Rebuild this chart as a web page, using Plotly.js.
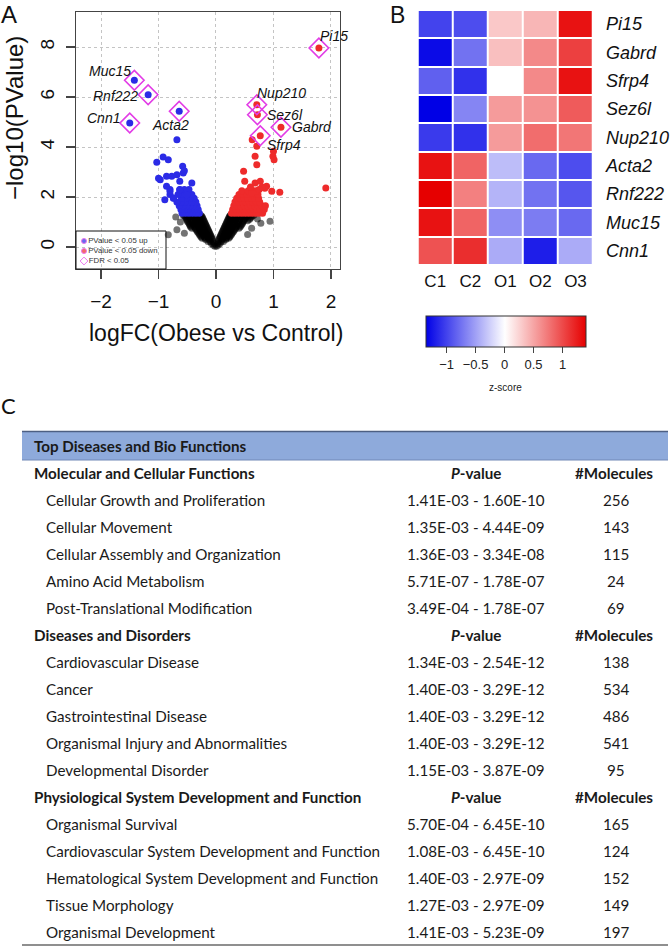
<!DOCTYPE html>
<html>
<head>
<meta charset="utf-8">
<script src="https://cdn.plot.ly/plotly-3.0.1.min.js"></script>
<style>html,body{margin:0;padding:0;background:#fff}#chart{width:672px;height:949px}</style>
</head>
<body>
<div id="chart"></div>
<script>
// ---------------- Panel A: volcano data ----------------
const blackX = [-0.02,0.01,-0.05,0.04,-0.03,-0.08,0.03,0.07,-0.05,-0.10,-0.14,0.04,0.09,0.13,
  -0.06,-0.12,-0.18,0.05,0.11,0.17,-0.08,-0.14,-0.20,-0.26,0.07,0.13,0.19,0.24,
  -0.10,-0.16,-0.22,-0.29,0.09,0.15,0.21,0.27,-0.12,-0.19,-0.25,-0.32,0.11,0.17,0.23,0.30,
  -0.14,-0.21,-0.28,-0.35,0.13,0.19,0.26,0.33,-0.16,-0.23,-0.30,-0.37,-0.44,0.15,0.21,0.28,0.35,0.42,
  -0.18,-0.25,-0.32,-0.39,-0.46,0.17,0.23,0.30,0.37,0.45,-0.20,-0.27,-0.34,-0.41,-0.49,0.19,0.25,0.32,0.39,0.47,
  -0.22,-0.29,-0.36,-0.43,-0.51,0.21,0.27,0.34,0.41,0.50,0.58,-0.24,-0.31,-0.38,-0.45,-0.53,0.23,0.29,0.36,0.43,0.52,0.61,
  -0.27,-0.35,-0.43,-0.50,-0.57,0.25,0.32,0.40,0.48,0.56,0.66,
  -0.83,-0.68,-0.62,0.94,0.62,0.72,-0.70,0.55,0.78,-0.55];
const blackY = [0.03,0.03,0.08,0.08,0.14,0.14,0.14,0.14,0.22,0.22,0.22,0.22,0.22,0.22,
  0.30,0.30,0.30,0.30,0.30,0.30,0.40,0.40,0.40,0.40,0.40,0.40,0.40,0.40,
  0.50,0.50,0.50,0.50,0.50,0.50,0.50,0.50,0.60,0.60,0.60,0.60,0.60,0.60,0.60,0.60,
  0.70,0.70,0.70,0.70,0.70,0.70,0.70,0.70,0.80,0.80,0.80,0.80,0.80,0.80,0.80,0.80,0.80,0.80,
  0.90,0.90,0.90,0.90,0.90,0.90,0.90,0.90,0.90,0.90,1.00,1.00,1.00,1.00,1.00,1.00,1.00,1.00,1.00,1.00,
  1.10,1.10,1.10,1.10,1.10,1.10,1.10,1.10,1.10,1.10,1.10,1.20,1.20,1.20,1.20,1.20,1.20,1.20,1.20,1.20,1.20,1.20,
  1.27,1.27,1.27,1.27,1.27,1.27,1.27,1.27,1.27,1.27,1.27,
  0.49,0.69,1.00,1.03,0.75,1.12,1.20,0.50,0.95,0.55];
// second (interleaved) layer of non-significant genes
const blackX2 = [-0.07,-0.13,-0.19,-0.24,0.06,0.12,0.18,0.22,
  -0.09,-0.15,-0.21,-0.27,0.08,0.14,0.20,0.25,
  -0.11,-0.17,-0.24,-0.30,0.10,0.16,0.22,0.28,
  -0.13,-0.20,-0.27,-0.33,0.12,0.18,0.25,0.31,
  -0.15,-0.22,-0.29,-0.36,-0.42,0.14,0.20,0.27,0.34,0.40,
  -0.17,-0.24,-0.31,-0.38,-0.45,0.16,0.22,0.29,0.36,0.43,
  -0.19,-0.26,-0.33,-0.40,-0.47,0.18,0.24,0.31,0.38,0.46,
  -0.21,-0.28,-0.35,-0.42,-0.50,0.20,0.26,0.33,0.40,0.48,0.55,
  -0.23,-0.30,-0.37,-0.44,-0.52,0.22,0.28,0.35,0.42,0.51,0.60,
  -0.25,-0.33,-0.41,-0.48,-0.55,0.24,0.30,0.38,0.46,0.54,0.63];
const blackY2 = [0.35,0.35,0.35,0.35,0.35,0.35,0.35,0.35,
  0.45,0.45,0.45,0.45,0.45,0.45,0.45,0.45,
  0.55,0.55,0.55,0.55,0.55,0.55,0.55,0.55,
  0.65,0.65,0.65,0.65,0.65,0.65,0.65,0.65,
  0.75,0.75,0.75,0.75,0.75,0.75,0.75,0.75,0.75,0.75,
  0.85,0.85,0.85,0.85,0.85,0.85,0.85,0.85,0.85,0.85,
  0.95,0.95,0.95,0.95,0.95,0.95,0.95,0.95,0.95,0.95,
  1.05,1.05,1.05,1.05,1.05,1.05,1.05,1.05,1.05,1.05,1.05,
  1.15,1.15,1.15,1.15,1.15,1.15,1.15,1.15,1.15,1.15,1.15,
  1.24,1.24,1.24,1.24,1.24,1.24,1.24,1.24,1.24,1.24,1.24];

const blueX = [-0.29,-0.35,-0.41,-0.47,-0.53,-0.59,-0.31,-0.37,-0.43,-0.49,-0.55,-0.61,
  -0.33,-0.39,-0.45,-0.51,-0.57,-0.64,-0.35,-0.42,-0.48,-0.54,-0.60,-0.68,
  -0.38,-0.45,-0.52,-0.60,-0.74,-0.42,-0.50,-0.58,-0.66,-0.80,-0.47,-0.55,-0.63,-0.80,
  -0.68,-0.92,-1.03,-0.83,-0.58,-0.57,-0.97,-0.86,-0.77,-0.68,-0.63,-0.42,-0.86,-0.80,-0.89,-0.74,-0.63,-0.51,-0.55,-1.00];
const blueY = [1.35,1.35,1.35,1.35,1.35,1.35,1.50,1.50,1.50,1.50,1.50,1.50,
  1.65,1.65,1.65,1.65,1.65,1.65,1.80,1.80,1.80,1.80,1.80,1.80,
  1.95,1.95,1.95,1.95,1.95,2.10,2.10,2.10,2.10,2.10,2.30,2.30,2.30,2.30,
  4.29,3.60,3.39,3.49,3.23,2.96,2.69,2.83,2.83,2.89,2.63,2.56,2.43,2.23,1.89,1.96,2.29,2.09,3.05,2.75];

const redX = [0.27,0.33,0.39,0.45,0.51,0.57,0.63,0.69,0.75,0.81,0.29,0.35,0.41,0.47,0.53,0.59,0.65,0.71,0.77,0.84,
  0.31,0.37,0.43,0.49,0.55,0.61,0.67,0.73,0.80,0.86,0.33,0.40,0.46,0.52,0.58,0.64,0.70,0.76,
  0.36,0.42,0.49,0.55,0.62,0.68,0.74,0.40,0.47,0.54,0.60,0.67,0.73,0.45,0.56,0.65,0.71,
  0.63,0.71,0.68,0.71,0.48,1.00,0.99,1.01,0.68,0.50,0.77,0.88,0.97,1.11,1.91,0.62,0.85,0.80,0.60,0.75];
const redY = [1.35,1.35,1.35,1.35,1.35,1.35,1.35,1.35,1.35,1.35,1.50,1.50,1.50,1.50,1.50,1.50,1.50,1.50,1.50,1.50,
  1.65,1.65,1.65,1.65,1.65,1.65,1.65,1.65,1.65,1.65,1.80,1.80,1.80,1.80,1.80,1.80,1.80,1.80,
  1.95,1.95,1.95,1.95,1.95,1.95,1.95,2.10,2.10,2.10,2.10,2.10,2.10,2.25,2.25,2.25,2.25,
  4.29,4.03,3.63,3.29,3.03,3.83,3.63,3.49,2.56,2.63,2.63,2.43,2.23,2.19,2.36,2.16,2.35,2.40,2.40,2.30];

const fdrGenes = ['Muc15','Rnf222','Cnn1','Acta2','Pi15','Nup210','Sez6l','Gabrd','Sfrp4'];
const fdrX = [-1.42,-1.18,-1.50,-0.64,1.79,0.71,0.72,1.13,0.77];
const fdrY = [6.67,6.09,4.96,5.43,7.96,5.69,5.29,4.79,4.45];
const fdrDir = ['blue','blue','blue','blue','red','red','red','red','red'];

const legendLabels = ['PValue < 0.05 up','PValue < 0.05 down','FDR < 0.05'];
const xTicks = [-2,-1,0,1,2];
const yTicks = [0,2,4,6,8];

// ---------------- Panel B: heatmap data ----------------
const samples = ['C1','C2','O1','O2','O3'];
const hmGenes = ['Pi15','Gabrd','Sfrp4','Sez6l','Nup210','Acta2','Rnf222','Muc15','Cnn1'];
const zPi15   = [-1.00,-0.95, 0.30, 0.40, 1.30];
const zGabrd  = [-1.30,-0.75, 0.35, 0.65, 1.05];
const zSfrp4  = [-0.85,-1.10, 0.00, 0.65, 1.30];
const zSez6l  = [-1.36,-0.65, 0.55, 0.60, 0.90];
const zNup210 = [-1.05,-1.10, 0.55, 0.80, 0.75];
const zActa2  = [ 1.30, 0.85,-0.35,-0.80,-0.95];
const zRnf222 = [ 1.40, 0.70,-0.40,-0.75,-0.90];
const zMuc15  = [ 1.30, 0.85,-0.60,-0.70,-0.80];
const zCnn1   = [ 0.95, 1.15,-0.45,-1.20,-0.45];
const cbTicks = [-1,-0.5,0,0.5,1];

// ---------------- Panel C: table data ----------------
const tableTitle = 'Top Diseases and Bio Functions';
const sectionTitles = ['Molecular and Cellular Functions','Diseases and Disorders','Physiological System Development and Function'];
const mcfNames = ['Cellular Growth and Proliferation','Cellular Movement','Cellular Assembly and Organization','Amino Acid Metabolism','Post-Translational Modification'];
const mcfPvals = ['1.41E-03 - 1.60E-10','1.35E-03 - 4.44E-09','1.36E-03 - 3.34E-08','5.71E-07 - 1.78E-07','3.49E-04 - 1.78E-07'];
const mcfCounts = [256,143,115,24,69];
const ddNames = ['Cardiovascular Disease','Cancer','Gastrointestinal Disease','Organismal Injury and Abnormalities','Developmental Disorder'];
const ddPvals = ['1.34E-03 - 2.54E-12','1.40E-03 - 3.29E-12','1.40E-03 - 3.29E-12','1.40E-03 - 3.29E-12','1.15E-03 - 3.87E-09'];
const ddCounts = [138,534,486,541,95];
const psdNames = ['Organismal Survival','Cardiovascular System Development and Function','Hematological System Development and Function','Tissue Morphology','Organismal Development'];
const psdPvals = ['5.70E-04 - 6.45E-10','1.08E-03 - 6.45E-10','1.40E-03 - 2.97E-09','1.27E-03 - 2.97E-09','1.41E-03 - 5.23E-09'];
const psdCounts = [165,124,152,149,197];

// ---------------- Build ----------------
const W = 672, H = 949;
const PX = v => v / W, PY = v => 1 - v / H;
const BLUE = '#2b2be6', RED = '#ee2b2b', MAG = '#e23ce6';
const ARIAL = 'Liberation Sans, Arial, sans-serif';
const NARROW = 'Liberation Sans Narrow, Liberation Sans, Arial, sans-serif';
const TFONT = 'Lato, Open Sans, sans-serif';

const traces = [];
const blackMarker = {color:'rgba(0,0,0,0.55)', size:7, line:{width:0}};
traces.push({type:'scatter', mode:'markers', x:blackX, y:blackY, xaxis:'x', yaxis:'y', hoverinfo:'skip', marker:blackMarker});
traces.push({type:'scatter', mode:'markers', x:blackX2, y:blackY2, xaxis:'x', yaxis:'y', hoverinfo:'skip', marker:blackMarker});
traces.push({type:'scatter', mode:'markers', x:blueX, y:blueY, xaxis:'x', yaxis:'y', hoverinfo:'skip',
  marker:{color:BLUE, size:7, line:{width:0}}});
traces.push({type:'scatter', mode:'markers', x:redX, y:redY, xaxis:'x', yaxis:'y', hoverinfo:'skip',
  marker:{color:RED, size:7, line:{width:0}}});
traces.push({type:'scatter', mode:'markers', x:fdrX, y:fdrY, xaxis:'x', yaxis:'y', hoverinfo:'skip',
  marker:{color:fdrDir.map(d => d === 'blue' ? BLUE : RED), size:7, line:{width:0}}});
traces.push({type:'scatter', mode:'markers', x:fdrX, y:fdrY, xaxis:'x', yaxis:'y', hoverinfo:'skip',
  marker:{symbol:'diamond-open', color:MAG, size:15, line:{width:1.6, color:MAG}}});

// manual legend (inset axis)
traces.push({type:'scatter', mode:'markers+text', xaxis:'x3', yaxis:'y3', hoverinfo:'skip',
  x:[8,8,8], y:[10,20,30], text:legendLabels, textposition:'middle right',
  textfont:{family:ARIAL, size:7.8, color:'#333'},
  marker:{symbol:['circle','circle','diamond-open'], color:[BLUE, RED, MAG], size:[5,5,6], line:{width:1, color:MAG}}});

// heatmap
traces.push({type:'heatmap', xaxis:'x2', yaxis:'y2', x:samples, y:hmGenes,
  z:[zPi15,zGabrd,zSfrp4,zSez6l,zNup210,zActa2,zRnf222,zMuc15,zCnn1],
  zmin:-1.36, zmax:1.40, xgap:2, ygap:2, hoverinfo:'skip',
  colorscale:[[0,'#0000e6'],[0.493,'#ffffff'],[1,'#e60000']],
  colorbar:{orientation:'h', x:PX(505.7), xanchor:'center', y:PY(315.7), yanchor:'top',
    len:160, lenmode:'pixels', thickness:31, thicknessmode:'pixels', xpad:0, ypad:0,
    outlinewidth:1, outlinecolor:'#333', ticks:'outside', ticklen:6, tickcolor:'#444',
    tickvals:cbTicks, ticktext:cbTicks.map(v => v < 0 ? '\u2212' + Math.abs(v) : String(v)),
    tickfont:{family:ARIAL, size:13, color:'#222'}}});

const annotations = [];
const shapes = [];
// panel letters
annotations.push({xref:'paper', yref:'paper', x:PX(9), y:PY(14), text:'A', showarrow:false, xanchor:'center', yanchor:'middle', font:{family:ARIAL, size:24, color:'#111'}});
annotations.push({xref:'paper', yref:'paper', x:PX(397), y:PY(15), text:'B', showarrow:false, xanchor:'center', yanchor:'middle', font:{family:ARIAL, size:23, color:'#111'}});
annotations.push({xref:'paper', yref:'paper', x:PX(8), y:PY(405), text:'C', showarrow:false, xanchor:'center', yanchor:'middle', font:{family:TFONT, size:22, color:'#111'}});
annotations.push({xref:'paper', yref:'paper', x:PX(505.7), y:PY(387), text:'z-score', showarrow:false, xanchor:'center', yanchor:'middle', font:{family:ARIAL, size:10, color:'#222'}});
// axis titles for volcano
annotations.push({xref:'paper', yref:'paper', x:PX(14), y:PY(118), text:'\u2212log10(PValue)', textangle:-90, showarrow:false, xanchor:'center', yanchor:'middle', font:{family:ARIAL, size:24, color:'#111'}});
annotations.push({xref:'paper', yref:'paper', x:PX(216), y:PY(333), text:'logFC(Obese vs Control)', showarrow:false, xanchor:'center', yanchor:'middle', font:{family:NARROW, size:23, color:'#111'}});
// gene labels (offsets in px relative to the point)
const labStyle = {
  Muc15:{xa:'right', dx:-1, dy:9}, Rnf222:{xa:'right', dx:-8, dy:-1}, Cnn1:{xa:'right', dx:-8, dy:5},
  Acta2:{xa:'center', dx:-9, dy:-14}, Pi15:{xa:'left', dx:-1, dy:12}, Nup210:{xa:'center', dx:25, dy:12},
  Sez6l:{xa:'left', dx:8, dy:0}, Gabrd:{xa:'left', dx:9, dy:0}, Sfrp4:{xa:'left', dx:5, dy:-9}};
fdrGenes.forEach((g, i) => {
  const s = labStyle[g];
  annotations.push({xref:'x', yref:'y', x:fdrX[i], y:fdrY[i], text:'<i>' + g + '</i>', showarrow:false,
    xanchor:s.xa, yanchor:'middle', xshift:s.dx, yshift:s.dy, font:{family:ARIAL, size:14, color:'#111'}});
});
// legend box
shapes.push({type:'rect', xref:'paper', yref:'paper', x0:PX(76), x1:PX(166), y0:PY(269), y1:PY(231), line:{color:'#111', width:1}, layer:'above'});

// table
const tColor = '#1a1a1a';
shapes.push({type:'rect', xref:'paper', yref:'paper', x0:PX(22), x1:PX(668), y0:PY(460), y1:PY(431.5), fillcolor:'#8eaadb', line:{width:0}, layer:'below'});
shapes.push({type:'line', xref:'paper', yref:'paper', x0:PX(22), x1:PX(668), y0:PY(431.5), y1:PY(431.5), line:{color:'#4d5f82', width:1.5}});
shapes.push({type:'line', xref:'paper', yref:'paper', x0:PX(22), x1:PX(668), y0:PY(460), y1:PY(460), line:{color:'#7088b6', width:1}});
shapes.push({type:'line', xref:'paper', yref:'paper', x0:PX(22), x1:PX(668), y0:PY(945), y1:PY(945), line:{color:'#6a6a6a', width:1.5}});
function tText(txt, x, y, xa, bold) {
  annotations.push({xref:'paper', yref:'paper', x:PX(x), y:PY(y), text: bold ? '<b>' + txt + '</b>' : txt,
    showarrow:false, xanchor:xa, yanchor:'middle', font:{family:TFONT, size:15.2, color:tColor}});
}
tText(tableTitle, 31.5, 446, 'left', true);
const sections = [[mcfNames, mcfPvals, mcfCounts],[ddNames, ddPvals, ddCounts],[psdNames, psdPvals, psdCounts]];
let row = 0;
const rowY = r => 473 + 27 * r;
sections.forEach((sec, si) => {
  tText(sectionTitles[si], 31.5, rowY(row), 'left', true);
  tText('<i>P</i>-value', 476, rowY(row), 'center', true);
  tText('#Molecules', 614, rowY(row), 'center', true);
  row++;
  sec[0].forEach((nm, k) => {
    tText(nm, 43.5, rowY(row), 'left', false);
    tText(sec[1][k], 476, rowY(row), 'center', false);
    tText(String(sec[2][k]), 616, rowY(row), 'center', false);
    row++;
  });
});

const layout = {
  width:W, height:H, margin:{l:0, r:0, t:0, b:0}, paper_bgcolor:'#fff', plot_bgcolor:'rgba(0,0,0,0)',
  showlegend:false, annotations, shapes,
  xaxis:{domain:[PX(76), PX(340)], range:[-2.435, 2.157], tickvals:xTicks, ticks:'outside', ticklen:9, tickwidth:1.2, tickcolor:'#444',
    showline:true, mirror:true, linecolor:'#444', linewidth:1.2, showgrid:true, gridcolor:'#c4c4c4', griddash:'dot', gridwidth:1,
    zeroline:false, tickfont:{family:NARROW, size:19, color:'#111'}, ticklabelstandoff:6, anchor:'y'},
  yaxis:{domain:[PY(269), PY(12)], range:[-0.88, 9.4], tickvals:yTicks, ticks:'outside', ticklen:9, tickwidth:1.2, tickcolor:'#444',
    showline:true, mirror:true, linecolor:'#444', linewidth:1.2, showgrid:true, gridcolor:'#c4c4c4', griddash:'dot', gridwidth:1,
    zeroline:false, tickangle:-90, tickfont:{family:ARIAL, size:19, color:'#111'}, ticklabelstandoff:4, anchor:'x'},
  xaxis2:{domain:[PX(417.7), PX(593)], anchor:'y2', type:'category', ticks:'', showline:false, showgrid:false, zeroline:false,
    tickfont:{family:ARIAL, size:17, color:'#111'}, ticklabelstandoff:4},
  yaxis2:{domain:[PY(265), PY(10)], anchor:'x2', type:'category', autorange:'reversed', side:'right', ticks:'', showline:false,
    showgrid:false, zeroline:false, tickfont:{family:ARIAL, size:18, color:'#111'}, ticklabelstandoff:12,
    tickvals:hmGenes, ticktext:hmGenes.map(g => '<i>' + g + '</i>')},
  xaxis3:{domain:[PX(76), PX(166)], anchor:'y3', range:[0, 90], visible:false, fixedrange:true},
  yaxis3:{domain:[PY(269), PY(231)], anchor:'x3', range:[38, 0], visible:false, fixedrange:true}
};

Plotly.newPlot('chart', traces, layout, {staticPlot:true, displayModeBar:false});
</script>
</body>
</html>
